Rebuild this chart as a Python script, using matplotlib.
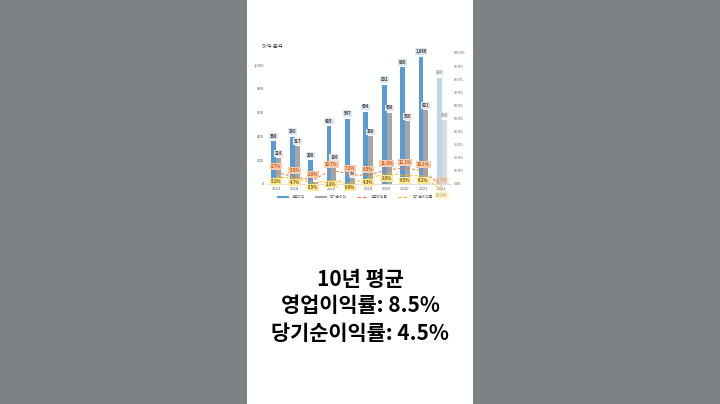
import matplotlib
matplotlib.use("Agg")
import matplotlib.pyplot as plt
from matplotlib.lines import Line2D
from matplotlib.patches import Rectangle
import numpy as np

plt.rcParams['font.family'] = ['Noto Sans CJK KR', 'DejaVu Sans']

# data
years = ["2013", "2014", "2015", "2016", "2017", "2018", "2019", "2020", "2021", "2022"]
op_income = [360, 398, 200, 485, 547, 604, 832, 980, 1066, 890]
net_income = [216, 317, 20, 186, 50, 399, 600, 530, 621, 540]
op_margin = [8.7, 5.5, 2.9, 10.7, 7.2, 6.5, 11.0, 12.1, 10.1, -1.7]
net_margin = [5.2, 4.7, 0.5, 2.8, 0.6, 4.3, 8.0, 6.5, 6.1, -5.0]
# the 2015 net income label is not shown in the reference
net_label_shown = [True, True, False, True, True, True, True, True, True, True]

title = "이익 분석"
legend_labels = ["영업이익", "당기순이익", "영업이익률", "당기순이익률"]
caption = ["10년 평균", "영업이익률: 8.5%", "당기순이익률: 4.5%"]

BLUE = "#5b9bd5"
GRAY = "#a5a5a5"
ORANGE = "#ed7d31"
YELLOW = "#ffc000"

fig = plt.figure(figsize=(7.2, 4.04), dpi=100)
fig.patch.set_facecolor("#7f8285")
# white page in the middle
fig.add_artist(Rectangle((247 / 720, 0), 226 / 720, 1, transform=fig.transFigure,
                         facecolor="white", edgecolor="none", zorder=0))

ax = fig.add_axes([267 / 720, 1 - 184 / 404, 184 / 720, 131 / 404])
ax.set_facecolor("none")
x = np.arange(len(years))
w = 0.27
n = len(years)
last = n - 1

op_cols = [BLUE] * last + ["#bcd6ee"]
net_cols = [GRAY] * last + ["#dcdcdc"]
ax.bar(x - 0.13, op_income, w, color=op_cols, zorder=2)
ax.bar(x + 0.14, net_income, w, color=net_cols, zorder=2)

ax.set_xlim(-0.5, n - 0.5)
ax.set_ylim(0, 1100)
ax.set_yticks(range(0, 1001, 200))
ax.set_yticklabels([f"{v:,}" for v in range(0, 1001, 200)])
ax.set_xticks(x)
ax.set_xticklabels(years)
ax.tick_params(length=0, labelsize=3, colors="#595959", pad=2)
for s in ["top", "right", "left"]:
    ax.spines[s].set_visible(False)
ax.spines["bottom"].set_color("#d9d9d9")
ax.spines["bottom"].set_linewidth(0.6)

for i in range(n):
    a = 0.45 if i == last else 1
    ax.text(x[i] - 0.13, op_income[i] + 22, f"{op_income[i]:,}", ha="center", va="bottom",
            fontsize=3, fontweight="bold", color="#404040", alpha=a,
            bbox=dict(boxstyle="square,pad=0.2", fc="#dae6f3", ec="none", alpha=a), zorder=5)
    if net_label_shown[i]:
        ax.text(x[i] + 0.14, net_income[i] + 18, f"{net_income[i]:,}", ha="center", va="bottom",
                fontsize=3, fontweight="bold", color="#404040", alpha=a,
                bbox=dict(boxstyle="square,pad=0.2", fc="#e7e7e7", ec="none", alpha=a), zorder=5)

ax2 = ax.twinx()
ax2.set_ylim(0, 100)
ax2.set_yticks(range(0, 101, 10))
ax2.set_yticklabels([f"{v:.1f}%" for v in range(0, 101, 10)])
ax2.tick_params(length=0, labelsize=2.6, colors="#595959", pad=2)
for s in ax2.spines.values():
    s.set_visible(False)

ax2.plot(x, op_margin, color=ORANGE, lw=0.7, ls=(0, (3, 2)), clip_on=False, zorder=3)
ax2.plot(x, net_margin, color=YELLOW, lw=0.7, ls=(0, (3, 2)), clip_on=False, zorder=3)
for i in range(n):
    a = 0.45 if i == last else 1
    ax2.text(x[i], op_margin[i] + 4.5, f"{op_margin[i]:.1f}%", ha="center", va="center",
             fontsize=3, fontweight="bold", color="#c55a11", alpha=a, clip_on=False,
             bbox=dict(boxstyle="square,pad=0.25", fc="#f8cbad", ec="none", alpha=a), zorder=6)
    ax2.text(x[i], net_margin[i] - 3.5, f"{net_margin[i]:.1f}%", ha="center", va="center",
             fontsize=3, fontweight="bold", color="#7f6000", alpha=a, clip_on=False,
             bbox=dict(boxstyle="square,pad=0.25", fc="#ffe699", ec="none", alpha=a), zorder=6)

fig.text(262 / 720, 1 - 47 / 404, title, fontsize=3.8, color="#404040", va="center")

handles = [Line2D([], [], color=BLUE, lw=1.5),
           Line2D([], [], color=GRAY, lw=1.5),
           Line2D([], [], color=ORANGE, lw=0.8, ls=(0, (3, 2))),
           Line2D([], [], color=YELLOW, lw=0.8, ls=(0, (3, 2)))]
fig.legend(handles, legend_labels, loc="center", bbox_to_anchor=(355 / 720, 1 - 197 / 404),
           ncol=4, frameon=False, fontsize=2.6, handlelength=3, columnspacing=3,
           labelcolor="#595959")

for txt, yy in zip(caption, [280, 306, 333]):
    fig.text(0.5, 1 - yy / 404, txt, ha="center", va="center", fontsize=15,
             fontweight="bold", color="black")

fig.savefig("out.png", dpi=100, facecolor=fig.get_facecolor())
